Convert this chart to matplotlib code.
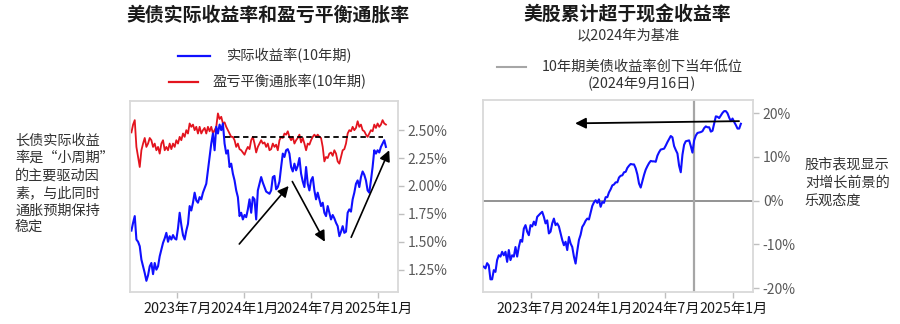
import matplotlib
matplotlib.use('Agg')
import matplotlib.pyplot as plt
from matplotlib.lines import Line2D
from matplotlib.ticker import FixedLocator, FuncFormatter
import pandas as pd

plt.rcParams['font.family'] = ['Noto Sans CJK SC', 'DejaVu Sans']

# ---------------- data ----------------
real_yield = [
    1.60, 1.67, 1.73, 1.52, 1.50, 1.46, 1.34, 1.28, 1.22, 1.15,
    1.20, 1.28, 1.31, 1.21, 1.31, 1.25, 1.28, 1.37, 1.43, 1.49,
    1.53, 1.58, 1.50, 1.55, 1.52, 1.56, 1.53, 1.52, 1.62, 1.76,
    1.65, 1.56, 1.52, 1.60, 1.66, 1.82, 1.78, 1.85, 1.94, 1.87,
    1.85, 1.90, 1.88, 1.94, 1.98, 2.02, 2.14, 2.26, 2.38, 2.47,
    2.32, 2.53, 2.47, 2.55, 2.50, 2.56, 2.38, 2.29, 2.32, 2.17,
    2.20, 2.11, 2.05, 1.96, 1.90, 1.73, 1.76, 1.70, 1.74, 1.72,
    1.79, 1.88, 1.76, 1.90, 1.88, 1.70, 1.96, 2.02, 2.08,
    2.03, 1.99, 1.95, 1.94, 1.93, 1.96, 2.08, 2.09, 1.97, 1.99,
    2.04, 2.17, 2.29, 2.26, 2.32, 2.33, 2.29, 2.17, 2.13, 2.20,
    2.14, 2.18, 2.25, 2.11, 2.04, 1.99, 2.17, 2.02, 1.96, 2.05,
    2.08, 1.96, 1.88, 1.94, 1.88, 1.82, 1.85, 1.76, 1.73, 1.82,
    1.76, 1.70, 1.74, 1.71, 1.67, 1.64, 1.55, 1.59, 1.64, 1.58,
    1.59, 1.76, 1.79, 1.77, 1.88, 1.94, 2.02, 2.05, 1.99, 2.08,
    2.13, 2.10, 2.05, 1.96, 1.94, 2.05, 2.17, 2.32, 2.29, 2.32,
    2.30, 2.35, 2.38, 2.41, 2.35,
]

breakeven = [
    2.48, 2.55, 2.59, 2.35, 2.26, 2.17, 2.32, 2.38, 2.43, 2.35,
    2.38, 2.43, 2.41, 2.35, 2.38, 2.32, 2.35, 2.29, 2.38, 2.41,
    2.32, 2.35, 2.32, 2.38, 2.33, 2.38, 2.35, 2.41, 2.38, 2.44,
    2.41, 2.47, 2.44, 2.50, 2.47, 2.56, 2.53, 2.55, 2.50, 2.53,
    2.47, 2.53, 2.47, 2.50, 2.52, 2.47, 2.53, 2.49, 2.53, 2.47,
    2.50, 2.53, 2.65, 2.60, 2.62, 2.56, 2.57, 2.53, 2.50, 2.47,
    2.44, 2.44, 2.41, 2.35, 2.38, 2.33, 2.32, 2.30, 2.28, 2.32,
    2.35, 2.33, 2.41, 2.44, 2.38, 2.30, 2.35, 2.38, 2.41,
    2.38, 2.39, 2.35, 2.38, 2.32, 2.33, 2.38, 2.35, 2.37, 2.32,
    2.41, 2.44, 2.43, 2.47, 2.46, 2.49, 2.44, 2.41, 2.44, 2.38,
    2.41, 2.43, 2.46, 2.39, 2.43, 2.38, 2.32, 2.38, 2.37, 2.41,
    2.44, 2.46, 2.44, 2.46, 2.44, 2.43, 2.35, 2.22, 2.26, 2.25,
    2.29, 2.30, 2.27, 2.32, 2.29, 2.22, 2.20, 2.26, 2.32, 2.33,
    2.38, 2.47, 2.50, 2.49, 2.53, 2.50, 2.52, 2.58, 2.53, 2.55,
    2.50, 2.49, 2.46, 2.44, 2.47, 2.50, 2.49, 2.55, 2.52, 2.56,
    2.53, 2.55, 2.59, 2.56, 2.55,
]

excess_return = [
    -15.1, -15.5, -14.3, -14.8, -18.0, -18.0, -15.9, -16.3, -13.6, -12.5,
    -12.8, -11.7, -12.5, -11.7, -14.0, -11.3, -13.6, -12.5, -12.8, -10.6,
    -12.8, -10.6, -9.0, -9.4, -6.4, -5.6, -7.1, -7.9, -5.6, -5.9,
    -4.8, -5.6, -3.7, -3.3, -2.9, -2.55, -3.7, -5.2, -4.5, -7.5,
    -7.1, -5.2, -4.1, -5.6, -5.2, -5.9, -7.5, -9.0, -10.2, -9.4,
    -11.3, -8.3, -9.8, -10.6, -12.8, -14.4, -11.5, -9.0, -7.8, -6.0,
    -5.4, -4.6, -4.1, -4.3, -2.8, -1.2, -0.4, 0.1, -0.5, 0.3,
    -1.4, -0.3, -0.5, 0.8, 0.8, 1.9, 2.6, 3.5,
    3.7, 4.2, 4.2, 5.3, 5.7, 5.8, 6.5, 6.6, 7.5, 8.0,
    8.4, 8.3, 8.3, 7.4, 6.0, 3.9, 3.0, 4.5, 5.9, 7.1,
    7.9, 8.6, 9.1, 9.0, 9.0, 8.9, 10.3, 11.1, 11.7, 11.8,
    11.9, 12.6, 13.4, 14.1, 14.8, 14.5, 12.5, 11.6, 10.8, 8.0,
    6.5, 10.5, 12.8, 13.6, 13.7, 13.8, 12.5, 11.0, 13.8, 14.9,
    15.5, 15.6, 15.7, 15.9, 16.6, 17.0, 16.8, 16.8, 15.8, 16.0,
    17.6, 19.3, 19.2, 18.9, 19.5, 20.1, 20.5, 20.5, 20.0, 19.0,
    18.2, 18.8, 18.0, 17.3, 16.5, 16.5, 17.6,
]

left_start, left_end = '2023-02-26', '2025-01-22'
right_start, right_end = '2023-02-24', '2025-01-22'
yield_low_date = '2024-09-16'
breakeven_ref = 2.44
breakeven_ref_span = ['2023-11-10', '2025-01-13']

xtick_dates = ['2023-07-01', '2024-01-01', '2024-07-01', '2025-01-01']
xtick_labels = ['2023年7月', '2024年1月', '2024年7月', '2025年1月']
left_yticks = [1.25, 1.50, 1.75, 2.00, 2.25, 2.50]
right_yticks = [-20, -10, 0, 10, 20]

left_arrows = [
    (('2023-12-18', 1.48), ('2024-05-01', 2.00)),
    (('2024-05-11', 2.04), ('2024-08-08', 1.50)),
    (('2024-10-19', 1.54), ('2025-01-31', 2.32)),
]
right_arrow = (('2025-01-17', 18.2), ('2023-10-30', 17.7))

# ---------------- figure ----------------
fig = plt.figure(figsize=(9, 3.24), dpi=100)
ax1 = fig.add_axes([0.1444, 0.0988, 0.2978, 0.589])
ax2 = fig.add_axes([0.5367, 0.0988, 0.300, 0.592])

BLUE = '#1010ff'
RED = '#e3141e'
TXT = '#333333'

ldates = pd.date_range(left_start, left_end, periods=len(real_yield))
rdates = pd.date_range(right_start, right_end, periods=len(excess_return))

ax1.plot(ldates, breakeven, color=RED, lw=1.3)
ax1.plot(ldates, real_yield, color=BLUE, lw=1.5)
ax1.hlines(breakeven_ref, pd.Timestamp(breakeven_ref_span[0]), pd.Timestamp(breakeven_ref_span[1]),
           colors='black', linestyles=(0, (3, 2)), lw=1.3)
for (s, e) in left_arrows:
    ax1.annotate('', xy=(pd.Timestamp(e[0]), e[1]), xytext=(pd.Timestamp(s[0]), s[1]),
                 arrowprops=dict(arrowstyle='-|>', color='black', lw=1.2,
                                 mutation_scale=16, shrinkA=0, shrinkB=0))

ax2.axhline(0, color='#808080', lw=1.2, zorder=1)
ax2.axvline(pd.Timestamp(yield_low_date), color='#a6a6a6', lw=1.6, zorder=1)
ax2.plot(rdates, excess_return, color=BLUE, lw=1.5, zorder=3)
(s, e) = right_arrow
ax2.annotate('', xy=(pd.Timestamp(e[0]), e[1]), xytext=(pd.Timestamp(s[0]), s[1]),
             arrowprops=dict(arrowstyle='-|>', color='black', lw=1.3,
                             mutation_scale=16, shrinkA=0, shrinkB=0), zorder=4)

xlim = (pd.Timestamp('2023-02-22'), pd.Timestamp('2025-02-24'))
for ax in (ax1, ax2):
    ax.set_xlim(*xlim)
    ax.yaxis.tick_right()
    for sp in ax.spines.values():
        sp.set_color('#d9d9d9')
        sp.set_linewidth(1.3)
    ax.set_xticks(pd.to_datetime(xtick_dates))
    ax.set_xticklabels(xtick_labels)
    ax.tick_params(axis='x', colors='#bfbfbf', labelcolor='#1a1a1a', labelsize=10.3,
                   length=4, width=1, pad=3)
    ax.tick_params(axis='y', colors='#bfbfbf', labelcolor='#595959', labelsize=10,
                   length=4, width=1, pad=3)

ax1.set_ylim(1.05, 2.76)
ax1.yaxis.set_major_locator(FixedLocator(left_yticks))
ax1.yaxis.set_major_formatter(FuncFormatter(lambda v, p: f'{v:.2f}%'))

ax2.set_ylim(-20.9, 23.0)
ax2.yaxis.set_major_locator(FixedLocator(right_yticks))
ax2.yaxis.set_major_formatter(FuncFormatter(lambda v, p: f'{int(round(v))}%'))

# titles
fig.text(0.2978, 0.954, '美债实际收益率和盈亏平衡通胀率', ha='center', va='center',
         fontsize=13.6, fontweight='bold', color='#1a1a1a')
fig.text(0.6972, 0.954, '美股累计超于现金收益率', ha='center', va='center',
         fontsize=13.6, fontweight='bold', color='#1a1a1a')
fig.text(0.6978, 0.892, '以2024年为基准', ha='center', va='center', fontsize=10.3, color=TXT)

# left legend
fig.add_artist(Line2D([0.1978, 0.2333], [0.8272, 0.8272], color=BLUE, lw=1.6,
                      transform=fig.transFigure))
fig.text(0.2522, 0.8272, '实际收益率(10年期)', ha='left', va='center', fontsize=10.3, color=TXT)
fig.add_artist(Line2D([0.1878, 0.2200], [0.7469, 0.7469], color=RED, lw=1.6,
                      transform=fig.transFigure))
fig.text(0.2367, 0.7469, '盈亏平衡通胀率(10年期)', ha='left', va='center', fontsize=10.3, color=TXT)

# right legend
fig.add_artist(Line2D([0.5522, 0.5844], [0.7932, 0.7932], color='#a6a6a6', lw=1.5,
                      transform=fig.transFigure))
fig.text(0.7133, 0.767, '10年期美债收益率创下当年低位\n(2024年9月16日)', ha='center',
         va='center', multialignment='center', fontsize=10.3, color=TXT, linespacing=1.2)

# side notes
fig.text(0.0167, 0.588, '长债实际收益\n率是“小周期”\n的主要驱动因\n素，与此同时\n通胀预期保持\n稳定',
         ha='left', va='top', fontsize=10.2, color=TXT, linespacing=1.32)
fig.text(0.8944, 0.514, '股市表现显示\n对增长前景的\n乐观态度',
         ha='left', va='top', fontsize=10.2, color=TXT, linespacing=1.36)

fig.savefig('out.png', dpi=100)
